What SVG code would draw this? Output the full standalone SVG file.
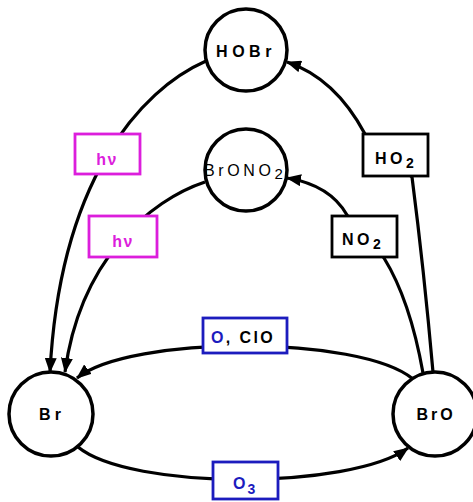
<svg xmlns="http://www.w3.org/2000/svg" width="473" height="502" viewBox="0 0 473 502">
<defs>
<style>
.node circle{fill:#fff;stroke:#000;stroke-width:3.5}
.edge{fill:none;stroke:#000;stroke-width:3.2}
.arr{marker-end:url(#ah)}
.box{fill:#fff;stroke-width:2.8}
.mag{stroke:#dc1edc}
.blk{stroke:#000}
.blu{stroke:#1c1cbe}
text{font-family:"Liberation Sans",Arial,sans-serif;font-weight:bold;font-size:16px}
text.thin{font-weight:normal}
.tm{fill:#dc1edc}
.tb{fill:#1c1cbe}
.tk{fill:#000}
</style>
<marker id="ah" viewBox="0 0 15 12" refX="14" refY="6" markerWidth="15" markerHeight="12" markerUnits="userSpaceOnUse" orient="auto">
<path d="M0,0 L15,6 L0,12 z" fill="#000"/>
</marker>
</defs>
<rect width="473" height="502" fill="#fff"/>
<g id="connectors">
<path class="edge arr" d="M206,61 C140,90 60,180 50,372"/>
<path class="edge arr" d="M205,182 C150,200 80,260 65,372"/>
<path class="edge arr" d="M433,372 Q424,270 412,177 L365,134 Q335,78 287,62"/>
<path class="edge arr" d="M423,373 Q410,300 384,258 L347,215 Q330,185 287,178"/>
<path class="edge arr" d="M413,379 C360,335 130,335 77,378"/>
<path class="edge arr" d="M78,447 C130,490 350,490 408,448"/>
</g>
<g id="HOBr" class="node">
<circle cx="246" cy="50" r="41"/>
<text x="246" y="57" text-anchor="middle" letter-spacing="4.5" font-size="17">HOBr</text>
</g>
<g id="BrONO2" class="node">
<circle cx="246" cy="170" r="41"/>
<text class="thin" x="204" y="176" font-size="15" letter-spacing="3.6">BrONO<tspan font-size="15" dy="3">2</tspan></text>
</g>
<g id="Br" class="node">
<circle cx="51" cy="414" r="42"/>
<text x="52" y="420" text-anchor="middle" letter-spacing="4" font-size="18">Br</text>
</g>
<g id="BrO" class="node">
<circle cx="435" cy="414" r="42"/>
<text x="436" y="420" text-anchor="middle" letter-spacing="3" font-size="18">BrO</text>
</g>
<g id="label-hv1">
<rect class="box mag" x="75" y="134" width="65" height="40"/>
<text class="tm" x="107" y="165" text-anchor="middle" letter-spacing="1.5" font-size="18">hν</text>
</g>
<g id="label-hv2">
<rect class="box mag" x="89" y="216" width="68" height="41"/>
<text class="tm" x="123" y="247" text-anchor="middle" letter-spacing="1.5" font-size="18">hν</text>
</g>
<g id="label-HO2">
<rect class="box blk" x="363" y="134" width="65" height="42"/>
<text class="tk" x="375" y="164" letter-spacing="3.5" font-size="17">HO<tspan font-size="14" dy="4">2</tspan></text>
</g>
<g id="label-NO2">
<rect class="box blk" x="332" y="216" width="65" height="41"/>
<text class="tk" x="342" y="245" letter-spacing="3.5" font-size="17">NO<tspan font-size="14" dy="4">2</tspan></text>
</g>
<g id="label-OClO">
<rect class="box blu" x="203" y="318" width="84" height="35"/>
<text x="211" y="343" letter-spacing="2.4" font-size="17"><tspan class="tb">O</tspan><tspan class="tk">, ClO</tspan></text>
</g>
<g id="label-O3">
<rect class="box blu" x="213" y="462" width="65" height="37"/>
<text class="tb" x="233" y="489" letter-spacing="2" font-size="17">O<tspan font-size="14" dy="5">3</tspan></text>
</g>
</svg>
